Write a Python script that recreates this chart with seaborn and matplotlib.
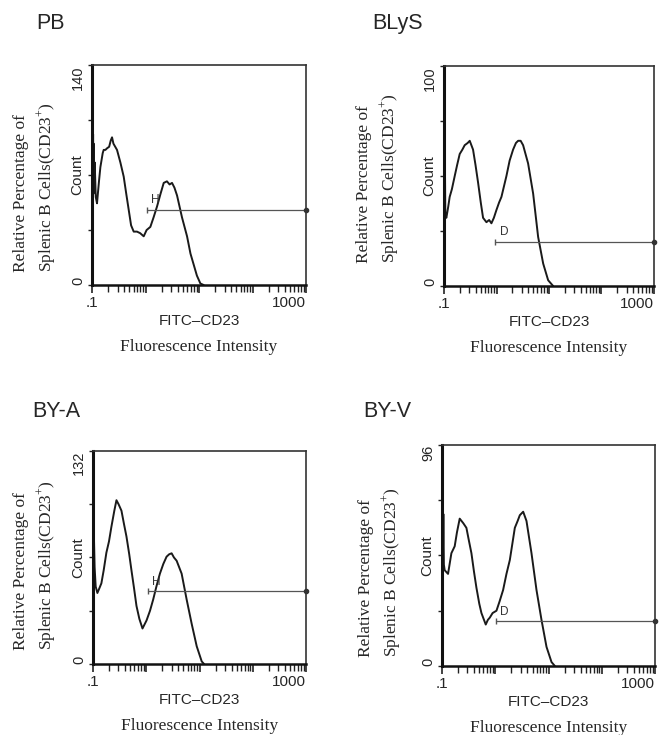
import numpy as np
import pandas as pd
import matplotlib
matplotlib.use("Agg")
import matplotlib.pyplot as plt
import seaborn as sns

sns.set_style("white")
plt.rcParams['font.family'] = ['Liberation Sans', 'DejaVu Sans']
plt.rcParams['mathtext.fontset'] = 'custom'
plt.rcParams['mathtext.rm'] = 'Liberation Serif'

# ---- data (log10 fluorescence, count) ----
panels = ["PB", "BLyS", "BY-A", "BY-V"]
y_max = [140, 100, 132, 96]

pb_log = [-0.99, -0.985, -0.98, -0.975, -0.97, -0.96, -0.95, -0.93, -0.907, -0.87,
          -0.844, -0.80, -0.782, -0.75, -0.72, -0.68, -0.65, -0.626, -0.60, -0.533,
          -0.47, -0.408, -0.36, -0.315, -0.27, -0.221, -0.16, -0.10, -0.034, 0.02,
          0.09, 0.15, 0.215, 0.28, 0.34, 0.40, 0.45, 0.495, 0.54, 0.589,
          0.682, 0.776, 0.84, 0.90, 0.96, 1.025, 1.087]
pb_count = [100, 62, 96, 58, 90, 60, 78, 56, 52, 66,
            75, 84, 86, 86, 87, 88, 92, 94, 90, 86,
            78, 69, 58, 48, 38, 34, 34, 33, 31, 35,
            37, 43, 50, 58, 65, 66, 64, 65, 62, 57,
            43, 31, 20, 13, 6, 1, 0]

blys_log = [-0.995, -0.99, -0.985, -0.975, -0.955, -0.92, -0.892, -0.85, -0.796, -0.75,
            -0.701, -0.65, -0.606, -0.55, -0.51, -0.447, -0.40, -0.351, -0.30, -0.256,
            -0.192, -0.14, -0.097, -0.05, -0.002, 0.05, 0.094, 0.189, 0.25, 0.316,
            0.37, 0.412, 0.46, 0.507, 0.602, 0.698, 0.793, 0.889, 0.984, 1.079]
blys_count = [64, 35, 63, 32, 31, 36, 40.5, 44, 50, 55,
              60, 62, 64, 65, 66, 62, 55, 47, 38, 31,
              29, 30, 28.5, 31, 34.5, 38, 40.5, 50, 57, 62,
              65, 66, 66, 64, 55.7, 42, 22.3, 10.2, 2.6, 0]

bya_log = [-0.99, -0.97, -0.95, -0.918, -0.88, -0.843, -0.80, -0.749, -0.70, -0.655,
           -0.60, -0.56, -0.52, -0.466, -0.42, -0.372, -0.32, -0.278, -0.23, -0.184,
           -0.13, -0.071, 0.005, 0.07, 0.13, 0.19, 0.256, 0.32, 0.381, 0.43,
           0.476, 0.52, 0.57, 0.664, 0.758, 0.852, 0.947, 1.041, 1.085]
bya_count = [89, 60, 48, 44, 47, 50, 58, 69, 76, 85,
             95, 101.5, 99, 95, 87, 79, 68, 58, 47, 36,
             28, 22, 27, 33, 40, 48, 56, 62, 66.5, 68,
             68.6, 66, 64, 56, 40, 25, 11, 1.6, 0]

byv_log = [-0.995, -0.985, -0.975, -0.965, -0.95, -0.887, -0.824, -0.762, -0.72, -0.668,
           -0.60, -0.542, -0.50, -0.448, -0.40, -0.354, -0.30, -0.26, -0.179, -0.14,
           -0.103, -0.05, 0.022, 0.08, 0.147, 0.21, 0.273, 0.32, 0.367, 0.42,
           0.461, 0.524, 0.586, 0.68, 0.774, 0.868, 0.962, 1.056, 1.119]
byv_count = [68, 42, 66, 44, 41.6, 40, 49, 52, 58, 64,
             62, 60, 55, 49, 41, 34, 27, 23, 18, 20,
             21, 23, 24, 28, 33, 40, 46, 53, 60, 63,
             65.5, 67, 63, 49, 33, 20, 8.3, 1.7, 0]

curves_log = [pb_log, blys_log, bya_log, byv_log]
curves_count = [pb_count, blys_count, bya_count, byv_count]

# gate markers
gate_name = ["H", "D", "H", "D"]
gate_start = [0.028, -0.02, 0.036, 0.022]   # log10
gate_level = [47.7, 20, 45.5, 19.4]
gate_text_x = [0.10, 0.07, 0.11, 0.09]
gate_text_y = [54, 24.5, 51, 23.5]

# ---- layout (figure fractions) ----
axes_pos = [[0.1388, 0.6122, 0.3228, 0.2993],
            [0.6697, 0.6109, 0.3167, 0.2993],
            [0.1403, 0.0966, 0.3213, 0.2898],
            [0.6667, 0.0939, 0.3213, 0.3007]]
title_pos = [(36, 29), (372, 29), (32, 417), (363, 417)]   # pixel x, baseline y
outer_dx = [56, 65, 57, 61]      # px left of axes for outer label centre
outer_dy = [13, 23, 14, 9]       # px above axes bottom

W, H = 663, 735
fig = plt.figure(figsize=(W / 100, H / 100), dpi=100)

for i, name in enumerate(panels):
    ax = fig.add_axes(axes_pos[i])
    df = pd.DataFrame({"fl": 10 ** np.array(curves_log[i]), "count": curves_count[i]})
    sns.lineplot(data=df, x="fl", y="count", ax=ax, color="#1a1a1a", lw=1.4)

    # gate bar
    g0 = 10 ** gate_start[i]
    ax.plot([g0, 1000], [gate_level[i]] * 2, color="#555555", lw=0.9)
    ax.plot([g0], [gate_level[i]], marker="|", ms=5, color="#555555", mew=1)
    ax.plot([1000], [gate_level[i]], marker="o", ms=3, color="#333333", clip_on=False)
    ax.text(10 ** gate_text_x[i], gate_text_y[i], gate_name[i], fontsize=8.5,
            color="#333333", ha="left", va="center")

    ax.set_xscale("log")
    ax.set_xlim(0.1, 1000)
    ax.set_ylim(0, y_max[i])
    ax.set_xlabel("")
    ax.set_ylabel("")

    # x ticks
    ax.set_xticks([0.1, 1, 10, 100, 1000])
    ax.set_xticklabels([".1", "", "", "", "1000"], fontsize=11)
    ax.get_xticklabels()[-1].set_ha("right")
    ax.xaxis.set_minor_locator(matplotlib.ticker.LogLocator(base=10, subs=np.arange(2, 10)))
    ax.xaxis.set_minor_formatter(matplotlib.ticker.NullFormatter())
    ax.tick_params(axis="x", which="major", direction="out", length=6, width=1.2,
                   pad=2, bottom=True, color="#222222")
    ax.tick_params(axis="x", which="minor", direction="out", length=5, width=1.0,
                   bottom=True, color="#222222")

    # y ticks
    ym = y_max[i]
    ax.set_yticks([0, ym * 0.25, ym * 0.5, ym * 0.75, ym])
    ax.set_yticklabels(["0", "", "", "", str(ym)], rotation=90, fontsize=10.5)
    ylabs = ax.get_yticklabels()
    ylabs[0].set_va("bottom")
    ylabs[-1].set_va("top")
    ax.tick_params(axis="y", direction="out", length=3, width=1, pad=2,
                   left=True, color="#222222")

    for side in ["top", "right"]:
        ax.spines[side].set_linewidth(1.2)
        ax.spines[side].set_color("#333333")
    ax.spines["left"].set_linewidth(2.2)
    ax.spines["bottom"].set_linewidth(1.8)
    ax.spines["left"].set_color("#111111")
    ax.spines["bottom"].set_color("#111111")

    # axis texts
    ax.annotate("Count", xy=(0, 0.5), xycoords="axes fraction",
                xytext=(-15 * 0.72, 0), textcoords="offset points",
                rotation=90, ha="center", va="center", fontsize=11)
    ax.annotate("FITC–CD23", xy=(0.5, 0), xycoords="axes fraction",
                xytext=(0, -36 * 0.72), textcoords="offset points",
                ha="center", va="center", fontsize=11)
    ax.annotate("Fluorescence Intensity", xy=(0.5, 0), xycoords="axes fraction",
                xytext=(0, -62 * 0.72), textcoords="offset points",
                ha="center", va="center", fontsize=12.5, family="Liberation Serif")
    ax.annotate("Relative Percentage of\nSplenic B Cells(CD23$^{+}$)",
                xy=(0, 0), xycoords="axes fraction",
                xytext=(-outer_dx[i] * 0.72, outer_dy[i] * 0.72), textcoords="offset points",
                rotation=90, ha="center", va="bottom", multialignment="left",
                linespacing=1.45, fontsize=12.5, family="Liberation Serif")

    tx, ty = title_pos[i]
    fig.text(tx / W, 1 - ty / H, name, fontsize=15.5, ha="left", va="baseline")

fig.savefig("out.png", dpi=100)
